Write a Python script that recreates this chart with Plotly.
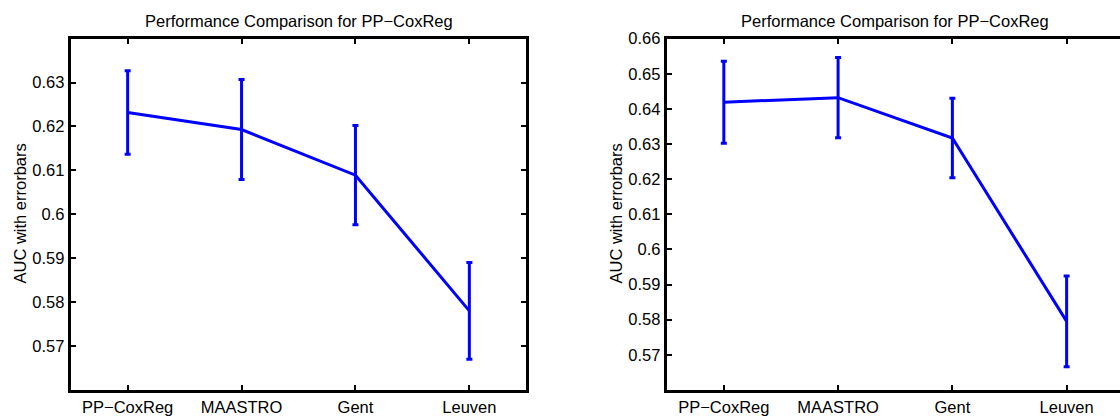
import plotly.graph_objects as go

# ---- data ----
categories = ["PP\u2212CoxReg", "MAASTRO", "Gent", "Leuven"]
x_pos = [1, 2, 3, 4]
auc_left = [0.6232, 0.6193, 0.6089, 0.5780]
err_left = [0.0095, 0.0114, 0.0113, 0.0110]
auc_right = [0.6419, 0.6432, 0.6317, 0.5795]
err_right = [0.0117, 0.0114, 0.0113, 0.0129]
yticks_left = [0.57, 0.58, 0.59, 0.60, 0.61, 0.62, 0.63]
yticks_right = [0.57, 0.58, 0.59, 0.60, 0.61, 0.62, 0.63, 0.64, 0.65, 0.66]
title_text = "Performance Comparison for PP\u2212CoxReg"
ylabel_text = "AUC with errorbars"

# ---- layout constants ----
W, H = 1120, 418
FONT = "Liberation Sans, Arial, Helvetica, sans-serif"
FS = 16.5
BLUE = "#0000FF"


def px_x(p):
    return p / W


def px_y(p):
    return 1 - p / H


top_px, bot_px = 30.3, 389.3
left_dom = [px_x(70.7), px_x(526.3)]
right_dom = [px_x(666.7), 1.0]
y_dom = [px_y(bot_px), px_y(top_px)]

fig = go.Figure()

for i, (vals, errs) in enumerate([(auc_left, err_left), (auc_right, err_right)]):
    fig.add_trace(go.Scatter(
        x=x_pos, y=vals,
        mode="lines",
        line=dict(color=BLUE, width=3),
        error_y=dict(type="data", array=errs, visible=True,
                     color=BLUE, thickness=3, width=3),
        xaxis="x" if i == 0 else "x2",
        yaxis="y" if i == 0 else "y2",
        showlegend=False,
        hoverinfo="x+y",
    ))

axis_common = dict(
    showgrid=False, zeroline=False,
    showline=True, linecolor="black", linewidth=3,
    ticks="inside", ticklen=5, tickwidth=1.5, tickcolor="black",
    tickfont=dict(family=FONT, size=FS, color="black"),
)

fig.update_layout(
    width=W, height=H,
    margin=dict(l=0, r=0, t=0, b=0),
    paper_bgcolor="white", plot_bgcolor="white",
    xaxis=dict(domain=left_dom, range=[0.5, 4.5], anchor="y",
               tickvals=x_pos, ticktext=categories, mirror="ticks", **axis_common),
    yaxis=dict(domain=y_dom, range=[0.56, 0.64], anchor="x",
               tickvals=yticks_left, ticktext=[f"{v:g}" for v in yticks_left],
               mirror="ticks", **axis_common),
    xaxis2=dict(domain=right_dom, range=[0.5, 4.467], anchor="y2",
                tickvals=x_pos, ticktext=categories, mirror="ticks", **axis_common),
    yaxis2=dict(domain=y_dom, range=[0.56, 0.66], anchor="x2",
                tickvals=yticks_right, ticktext=[f"{v:g}" for v in yticks_right],
                mirror=False, **axis_common),
)

annotations = []
for cx in [298.5, 895.2]:
    annotations.append(dict(
        x=px_x(cx), y=px_y(12), xref="paper", yref="paper",
        text=title_text, showarrow=False,
        font=dict(family=FONT, size=FS, color="black"),
        xanchor="center", yanchor="middle",
    ))
for lx in [19, 615]:
    annotations.append(dict(
        x=px_x(lx), y=px_y(209), xref="paper", yref="paper",
        text=ylabel_text, showarrow=False, textangle=-90,
        font=dict(family=FONT, size=FS, color="black"),
        xanchor="center", yanchor="middle",
    ))
fig.update_layout(annotations=annotations)

post = (
    "document.body.style.margin='0';"
    "document.body.style.overflow='hidden';"
    "var gd=document.getElementById('{plot_id}');"
    "gd.style.position='fixed';gd.style.top='0px';gd.style.left='0px';"
)
fig.write_html("out.html", post_script=post, config={"displayModeBar": False})
